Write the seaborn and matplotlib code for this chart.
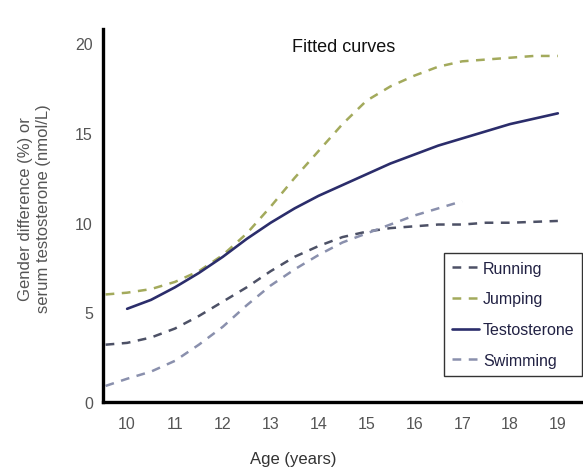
import matplotlib
matplotlib.use("Agg")
import matplotlib.pyplot as plt
import seaborn as sns
import pandas as pd

# values
age_full = [9.55, 10, 10.5, 11, 11.5, 12, 12.5, 13, 13.5, 14, 14.5, 15,
            15.5, 16, 16.5, 17, 17.5, 18, 18.5, 19]
running = [3.2, 3.3, 3.6, 4.1, 4.8, 5.6, 6.4, 7.3, 8.1, 8.7, 9.2, 9.5,
           9.7, 9.8, 9.9, 9.9, 10.0, 10.0, 10.05, 10.1]
jumping = [6.0, 6.1, 6.3, 6.7, 7.3, 8.2, 9.4, 10.9, 12.5, 14.0, 15.5, 16.8,
           17.6, 18.2, 18.7, 19.0, 19.1, 19.2, 19.3, 19.3]

age_testo = [10, 10.5, 11, 11.5, 12, 12.5, 13, 13.5, 14, 14.5, 15, 15.5,
             16, 16.5, 17, 17.5, 18, 18.5, 19]
testosterone = [5.2, 5.7, 6.4, 7.2, 8.1, 9.1, 10.0, 10.8, 11.5, 12.1, 12.7,
                13.3, 13.8, 14.3, 14.7, 15.1, 15.5, 15.8, 16.1]

age_swim = [9.55, 10, 10.5, 11, 11.5, 12, 12.5, 13, 13.5, 14, 14.5, 15,
            15.5, 16, 16.5, 17]
swimming = [0.9, 1.3, 1.7, 2.3, 3.2, 4.2, 5.4, 6.5, 7.4, 8.2, 8.9, 9.4,
            9.9, 10.4, 10.8, 11.2]

sns.set_style("white")
plt.rcParams['font.family'] = ['Liberation Sans', 'DejaVu Sans']

fig = plt.figure(figsize=(5.83, 4.77), dpi=100)
ax = fig.add_axes([0.177, 0.155, 0.825, 0.782])

series = [
    ("Running", age_full, running, "#4d5166", (3.5, 3), 1.8),
    ("Jumping", age_full, jumping, "#a3aa5c", (3.5, 3), 1.8),
    ("Testosterone", age_testo, testosterone, "#2b2d6b", None, 1.9),
    ("Swimming", age_swim, swimming, "#8a90ad", (3.5, 3), 1.8),
]

for name, x, y, col, dash, lw in series:
    df = pd.DataFrame({"age": x, "val": y})
    sns.lineplot(data=df, x="age", y="val", ax=ax, color=col,
                 linewidth=lw, label=name)
    l = ax.get_lines()[-1]
    if dash is not None:
        l.set_dashes(dash)

ax.set_xlim(9.5, 19.55)
ax.set_ylim(0, 20.8)
ax.set_xticks(range(10, 20))
ax.set_yticks([0, 5, 10, 15, 20])
ax.spines["top"].set_visible(False)
ax.spines["right"].set_visible(False)
for s in ["left", "bottom"]:
    ax.spines[s].set_linewidth(2.4)
    ax.spines[s].set_color("black")
ax.tick_params(axis="both", direction="out", length=4, width=0.8,
               color="#777777", labelcolor="#555555", labelsize=11.5)
ax.tick_params(axis="x", pad=6)

ax.set_xlabel("Age (years)", fontsize=12, color="#333333")
ax.xaxis.set_label_coords(0.395, -0.13)
ax.set_ylabel("Gender difference (%) or\nserum testosterone (nmol/L)",
              fontsize=12, color="#555555", linespacing=1.3)
ax.yaxis.set_label_coords(-0.108, 0.52)

ax.text(0.5, 0.975, "Fitted curves", transform=ax.transAxes, ha="center",
        va="top", fontsize=13, color="#111111")

leg = ax.legend(loc="upper left", bbox_to_anchor=(0.708, 0.40),
                borderaxespad=0, fontsize=11.5, frameon=True, fancybox=False,
                handlelength=1.7, handletextpad=0.25, labelspacing=0.98,
                borderpad=0.5)
leg.get_frame().set_edgecolor("black")
leg.get_frame().set_linewidth(1.0)
for t in leg.get_texts():
    t.set_color("#222244")

fig.savefig("out.png", dpi=100)
